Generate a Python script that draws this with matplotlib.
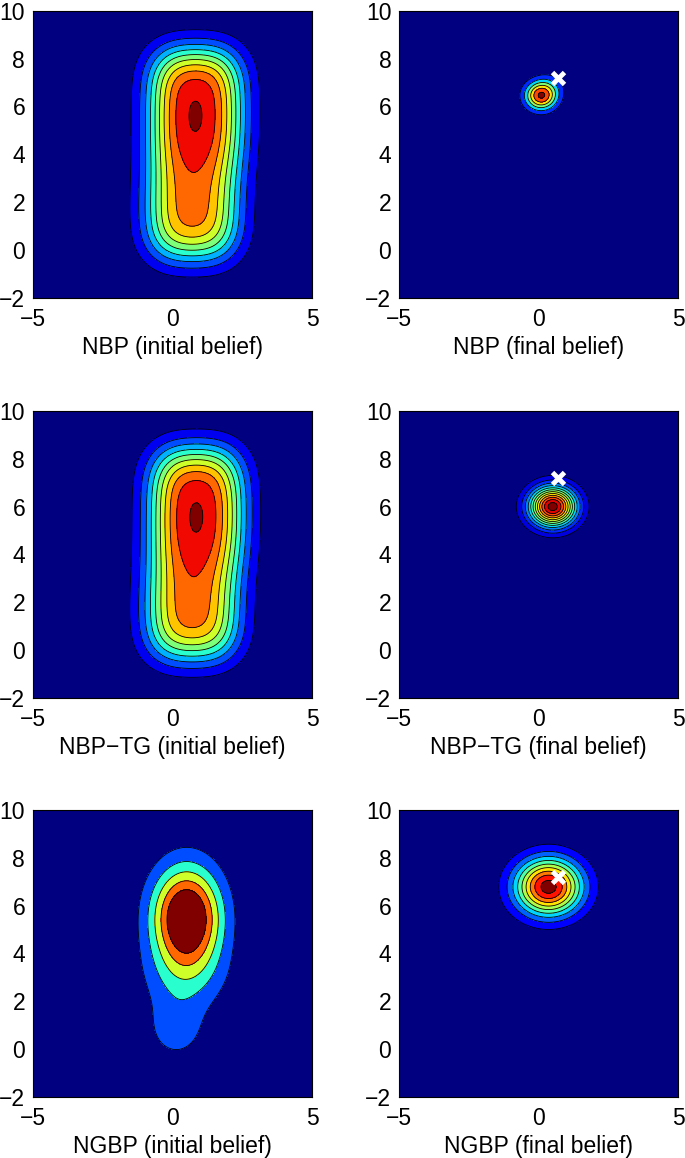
import matplotlib
matplotlib.use("Agg")
import matplotlib.pyplot as plt
import numpy as np

plt.rcParams['font.family'] = ['Liberation Sans', 'DejaVu Sans']

# ---- belief kernels ----
# initial NBP beliefs: a column of kernel rows, each row = two kernels at +-dx
init_dx = [-0.7, 0.7]

# NBP, initial belief
nbp_init_x = [0.70, 0.70, 0.70, 0.70, 0.70, 0.72, 0.75, 0.78, 0.80, 0.82, 0.82, 0.82, 0.82, 0.82, 0.82, 0.82]
nbp_init_y = [0.10, 0.62, 1.14, 1.66, 2.18, 2.70, 3.22, 3.74, 4.26, 4.78, 5.30, 5.82, 6.34, 6.86, 7.38, 7.92]
nbp_init_w = [0.85, 0.84, 0.84, 0.84, 0.84, 0.84, 0.85, 0.89, 0.96, 0.99, 1.00, 0.99, 0.975, 0.975, 0.975, 0.98]
nbp_init_sx, nbp_init_sy = 0.8, 0.82

# NBP, final belief
nbp_final_x = [0.08, 0.45]
nbp_final_y = [6.45, 6.90]
nbp_final_w = [1.00, 0.12]
nbp_final_sx, nbp_final_sy = 0.40, 0.42

# NBP-TG, initial belief
tg_init_x = [0.70, 0.70, 0.70, 0.70, 0.70, 0.72, 0.76, 0.80, 0.83, 0.85, 0.85, 0.85, 0.85, 0.85, 0.85, 0.85]
tg_init_y = [0.10, 0.62, 1.14, 1.66, 2.18, 2.70, 3.22, 3.74, 4.26, 4.78, 5.30, 5.82, 6.34, 6.86, 7.38, 7.97]
tg_init_w = [0.86, 0.85, 0.85, 0.85, 0.85, 0.85, 0.86, 0.90, 0.96, 0.99, 1.00, 0.99, 0.98, 0.975, 0.975, 0.98]
tg_init_sx, tg_init_sy = 0.8, 0.82

# NBP-TG, final belief
tg_final_x = [0.50]
tg_final_y = [6.00]
tg_final_w = [1.00]
tg_final_sx, tg_final_sy = 0.58, 0.58

# NGBP, initial belief: main body, lower body, tail
ngbp_init_x = [0.50, 0.45, 0.12]
ngbp_init_y = [5.50, 3.00, 0.80]
ngbp_init_w = [1.00, 0.20, 0.20]
ngbp_init_sx = [0.88, 1.10, 0.80]
ngbp_init_sy = [1.50, 1.10, 1.00]

# NGBP, final belief
ngbp_final_x = [0.35]
ngbp_final_y = [6.78]
ngbp_final_w = [1.00]
ngbp_final_sx, ngbp_final_sy = 0.84, 0.84

# number of contour levels and top level (fraction of peak) per panel
n_levels = [10, 6, 10, 12, 5, 9]
top_level = [0.99, 0.96, 0.99, 0.96, 0.73, 0.95]

titles = ['NBP (initial belief)', 'NBP (final belief)',
          'NBP\u2212TG (initial belief)', 'NBP\u2212TG (final belief)',
          'NGBP (initial belief)', 'NGBP (final belief)']
has_truth = [False, True, False, True, False, True]
truth = (0.7, 7.2)

kernels = [
    (nbp_init_x, nbp_init_y, nbp_init_w, nbp_init_sx, nbp_init_sy, init_dx),
    (nbp_final_x, nbp_final_y, nbp_final_w, nbp_final_sx, nbp_final_sy, [0.0]),
    (tg_init_x, tg_init_y, tg_init_w, tg_init_sx, tg_init_sy, init_dx),
    (tg_final_x, tg_final_y, tg_final_w, tg_final_sx, tg_final_sy, [0.0]),
    (ngbp_init_x, ngbp_init_y, ngbp_init_w, ngbp_init_sx, ngbp_init_sy, [0.0]),
    (ngbp_final_x, ngbp_final_y, ngbp_final_w, ngbp_final_sx, ngbp_final_sy, [0.0]),
]

# grid
gx = np.linspace(-5, 5, 401)
gy = np.linspace(-2, 10, 481)
X, Y = np.meshgrid(gx, gy)

fig = plt.figure(figsize=(6.85, 11.58), dpi=100)
lefts = [0.048, 0.5825]
bottoms = [0.7427, 0.3972, 0.0527]

for i, (kx, ky, kw, ksx, ksy, dxs) in enumerate(kernels):
    row, col = i // 2, i % 2
    ax = fig.add_axes([lefts[col], bottoms[row], 0.408, 0.248])

    ksx = np.broadcast_to(ksx, len(kx))
    ksy = np.broadcast_to(ksy, len(kx))
    Z = np.zeros_like(X)
    for cx, cy, w, sx, sy in zip(kx, ky, kw, ksx, ksy):
        for dx in dxs:
            Z += w * np.exp(-0.5 * ((X - cx - dx) / sx) ** 2 - 0.5 * ((Y - cy) / sy) ** 2)
    Z /= Z.max()

    n = n_levels[i]
    lev = [top_level[i] * k / n for k in range(1, n + 1)]
    cols = [plt.cm.jet(k / n) for k in range(n + 1)]
    ax.contourf(X, Y, Z, levels=[-1.0] + lev + [1.01], colors=cols)
    ax.contour(X, Y, Z, levels=lev, colors='k', linewidths=0.6)

    if has_truth[i]:
        ax.plot(truth[0], truth[1], 'x', color='white', ms=9, mew=3.5)

    ax.set_xlim(-5, 5)
    ax.set_ylim(-2, 10)
    ax.set_xticks([-5, 0, 5])
    ax.set_yticks([-2, 0, 2, 4, 6, 8, 10])
    ax.tick_params(length=0, labelsize=16.5)
    ax.tick_params(axis='x', pad=7)
    ax.tick_params(axis='y', pad=5.5)
    ax.set_xlabel(titles[i], fontsize=16.5, labelpad=4)
    for s in ax.spines.values():
        s.set_linewidth(0.8)

fig.savefig('out.png', dpi=100)
